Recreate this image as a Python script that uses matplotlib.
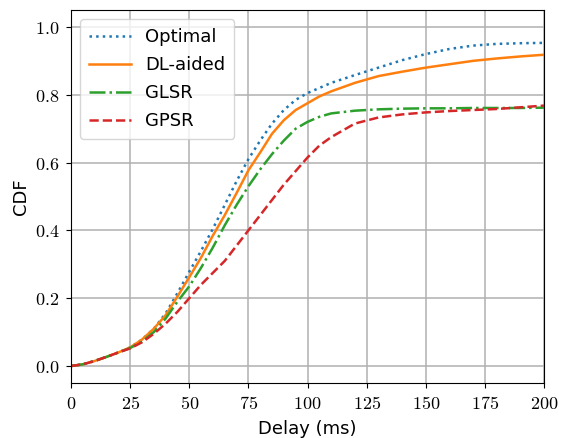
import matplotlib
matplotlib.use("Agg")
import matplotlib.pyplot as plt
from matplotlib.ticker import FuncFormatter, MultipleLocator

delay = [0, 5, 10, 15, 20, 25, 30, 35, 40, 45, 50, 55, 60, 65, 70, 75, 80, 85, 90, 95,
         100, 105, 110, 120, 130, 140, 150, 160, 170, 180, 190, 200]

optimal = [0, 0.005, 0.015, 0.027, 0.04, 0.055, 0.078, 0.11, 0.155, 0.215, 0.278, 0.34,
           0.405, 0.475, 0.545, 0.61, 0.665, 0.715, 0.755, 0.785, 0.805, 0.82, 0.835, 0.858,
           0.88, 0.902, 0.92, 0.935, 0.945, 0.95, 0.952, 0.953]
dl_aided = [0, 0.005, 0.015, 0.027, 0.04, 0.055, 0.078, 0.11, 0.15, 0.205, 0.262, 0.32,
            0.385, 0.445, 0.51, 0.577, 0.63, 0.685, 0.725, 0.755, 0.775, 0.795, 0.81, 0.835,
            0.855, 0.868, 0.88, 0.89, 0.9, 0.907, 0.913, 0.918]
glsr = [0, 0.005, 0.015, 0.027, 0.04, 0.053, 0.072, 0.1, 0.14, 0.19, 0.235, 0.29, 0.35,
        0.415, 0.475, 0.53, 0.58, 0.625, 0.665, 0.7, 0.72, 0.735, 0.745, 0.753, 0.757, 0.759,
        0.76, 0.76, 0.761, 0.761, 0.761, 0.762]
gpsr = [0, 0.005, 0.015, 0.027, 0.04, 0.052, 0.07, 0.095, 0.125, 0.16, 0.2, 0.24, 0.275,
        0.31, 0.355, 0.4, 0.445, 0.49, 0.535, 0.575, 0.615, 0.65, 0.675, 0.715, 0.733, 0.742,
        0.748, 0.752, 0.755, 0.758, 0.763, 0.768]

plt.rcParams['mathtext.fontset'] = 'cm'
plt.rcParams['font.family'] = ['DejaVu Sans']

fig = plt.figure(figsize=(5.61, 4.38), dpi=100)
ax = fig.add_axes([0.1266, 0.1256, 0.8431, 0.8516])

ax.plot(delay, optimal, linestyle=':', color='#1f77b4', lw=1.8, label='Optimal')
ax.plot(delay, dl_aided, linestyle='-', color='#ff7f0e', lw=1.8, label='DL-aided')
ax.plot(delay, glsr, linestyle='-.', color='#2ca02c', lw=1.8, label='GLSR')
ax.plot(delay, gpsr, linestyle='--', color='#d62728', lw=1.8, label='GPSR')

ax.set_xlim(0, 200)
ax.set_ylim(-0.05, 1.05)
ax.xaxis.set_major_locator(MultipleLocator(25))
ax.yaxis.set_major_locator(MultipleLocator(0.2))
ax.xaxis.set_major_formatter(FuncFormatter(lambda v, p: r'$%d$' % round(v)))
ax.yaxis.set_major_formatter(FuncFormatter(lambda v, p: r'$%.1f$' % v))
ax.tick_params(labelsize=13, pad=5)
ax.grid(True, color='#b0b0b0', lw=1.1)
ax.set_axisbelow(True)
ax.set_xlabel('Delay (ms)', fontsize=13, labelpad=5)
ax.set_ylabel('CDF', fontsize=13, labelpad=3)
ax.legend(loc='upper left', fontsize=13, handlelength=2.3, labelspacing=0.55,
          borderpad=0.5)

fig.savefig('out.png', dpi=100)
